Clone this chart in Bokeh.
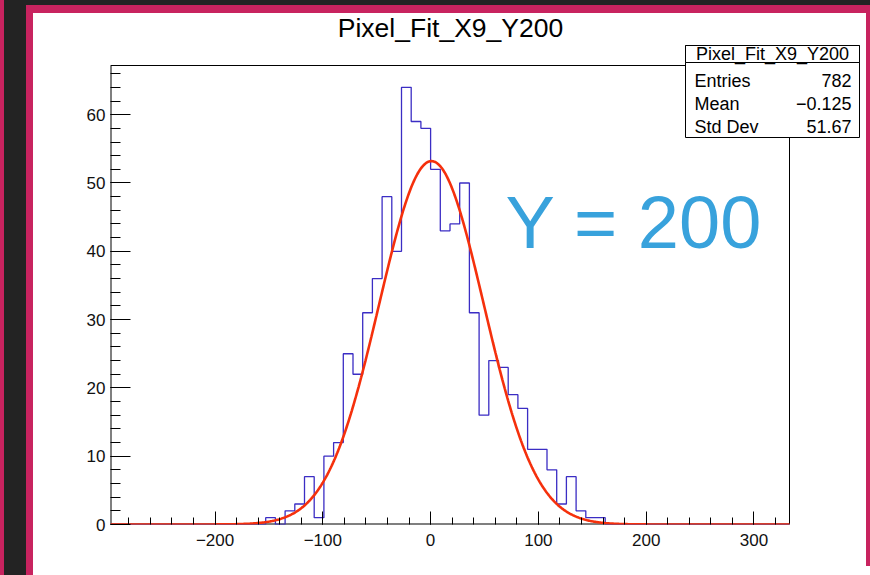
import numpy as np
from bokeh.plotting import figure
from bokeh.models import Range1d, FixedTicker, Label, BoxAnnotation, Div
from bokeh.layouts import row, column
from bokeh.embed import file_html
from bokeh.resources import INLINE

# ---------------- data ----------------
hist_title = "Pixel_Fit_X9_Y200"
x_min, x_max, n_bins = -297.0, 333.0, 70
y_max = 67.2
counts = [0, 0, 0, 0, 0, 0, 0, 0, 0, 0,
          0, 0, 0, 0, 0, 0, 1, 0, 2, 3,
          7, 1, 10, 12, 25, 22, 31, 36, 48, 40,
          64, 59, 58, 52, 43, 44, 50, 31, 16, 24,
          23, 19, 17, 11, 11, 8, 3, 7, 2, 1,
          1, 0, 0, 0, 0, 0, 0, 0, 0, 0,
          0, 0, 0, 0, 0, 0, 0, 0, 0, 0]
fit_constant = 53.2
fit_mean = 0.8
fit_sigma = 48.5
stat_labels = ["Entries", "Mean", "Std Dev"]
stat_values = ["782", "\u22120.125", "51.67"]
x_major = [-200, -100, 0, 100, 200, 300]
x_minor = list(range(-280, 334, 20))
y_major = [0, 10, 20, 30, 40, 50, 60]
y_minor = list(range(0, 68, 2))
annotation_text = "Y = 200"

# ---------------- styles / geometry ----------------
FONT = "Liberation Sans"
MAGENTA = "#c8235f"
DARK = "#232323"
HIST_COLOR = "#3b2dc4"
FIT_COLOR = "#f5300c"

# absolute window pixels
CANVAS_L, CANVAS_T, CANVAS_R = 33, 13, 866
FRAME_L, FRAME_R, FRAME_T, FRAME_B = 110, 789, 65, 524
FIG_W, FIG_H = CANVAS_R - CANVAS_L, 575 - CANVAS_T

sx = (FRAME_R - FRAME_L) / (x_max - x_min)
sy = (FRAME_B - FRAME_T) / y_max
x_end = x_max + (CANVAS_R - FRAME_R) / sx
y_end = y_max + (FRAME_T - CANVAS_T) / sy

p = figure(width=FIG_W, height=FIG_H, output_backend="svg", toolbar_location=None,
           x_range=Range1d(x_min, x_end), y_range=Range1d(0, y_end),
           min_border_left=FRAME_L - CANVAS_L, min_border_right=0,
           min_border_top=0, min_border_bottom=575 - FRAME_B)
p.title.visible = False
p.xgrid.visible = False
p.ygrid.visible = False
p.background_fill_color = "white"
p.border_fill_color = "white"
p.outline_line_color = None

# histogram frame box
p.line([x_min, x_min], [0, y_max], line_color="black", line_width=2)
p.line([x_min, x_max], [0, 0], line_color="black", line_width=2)
p.line([x_min, x_max, x_max], [y_max, y_max, 0], line_color="black", line_width=1)

# histogram outline
edges = np.linspace(x_min, x_max, n_bins + 1)
hx = np.repeat(edges, 2)[1:-1]
hy = np.repeat(np.array(counts, dtype=float), 2)
p.line(hx, hy, line_color=HIST_COLOR, line_width=1.3)

# gaussian fit
fx = np.linspace(x_min, x_max, 800)
fy = fit_constant * np.exp(-0.5 * ((fx - fit_mean) / fit_sigma) ** 2)
p.line(fx, fy, line_color=FIT_COLOR, line_width=2.6)

# axes
xa = p.xaxis[0]
xa.ticker = FixedTicker(ticks=x_major, minor_ticks=x_minor)
xa.major_label_overrides = {t: (("\u2212" + str(-t)) if t < 0 else str(t)) for t in x_major}
xa.major_tick_in = 13
xa.major_tick_out = 0
xa.minor_tick_in = 7
xa.minor_tick_out = 0
xa.major_label_standoff = 9

ya = p.yaxis[0]
ya.ticker = FixedTicker(ticks=y_major, minor_ticks=y_minor)
ya.major_tick_in = 20
ya.major_tick_out = 0
ya.minor_tick_in = 10
ya.minor_tick_out = 0
ya.major_label_standoff = 5

for ax in (xa, ya):
    ax.axis_line_color = None
    ax.major_tick_line_color = "black"
    ax.minor_tick_line_color = "black"
    ax.major_label_text_font = FONT
    ax.major_label_text_font_size = "17px"
    ax.major_label_text_color = "#111111"


def sx_(abs_x):
    return abs_x - FRAME_L


def sy_(abs_y):
    return FRAME_B - abs_y


def sbox(l, r, t, b, fill, line=None):
    box = BoxAnnotation(left=sx_(l), right=sx_(r), top=sy_(t), bottom=sy_(b),
                        left_units="screen", right_units="screen",
                        top_units="screen", bottom_units="screen",
                        fill_color=fill, fill_alpha=1.0,
                        line_color=line, line_alpha=1.0, line_width=1)
    p.add_layout(box)


# stats box
sbox(685, 859, 45, 137, "white", "black")
sbox(685, 859, 45, 62, "white", "black")

p.add_layout(Label(x=sx_(772), y=sy_(53.5), x_units="screen", y_units="screen", text=hist_title,
                   text_font=FONT, text_font_size="18px", text_align="center",
                   text_baseline="middle", text_color="black"))
row_y = [80, 103, 126]
for lab, val, yy in zip(stat_labels, stat_values, row_y):
    p.add_layout(Label(x=sx_(694), y=sy_(yy), x_units="screen", y_units="screen", text=lab,
                       text_font=FONT, text_font_size="18px", text_align="left",
                       text_baseline="middle", text_color="black"))
    p.add_layout(Label(x=sx_(851), y=sy_(yy), x_units="screen", y_units="screen", text=val,
                       text_font=FONT, text_font_size="18px", text_align="right",
                       text_baseline="middle", text_color="black"))

# title
p.add_layout(Label(x=sx_(450), y=sy_(27.5), x_units="screen", y_units="screen", text=hist_title,
                   text_font=FONT, text_font_size="26.5px", text_align="center",
                   text_baseline="middle", text_color="black"))

# big annotation
p.add_layout(Label(x=sx_(505), y=sy_(222), x_units="screen", y_units="screen", text=annotation_text,
                   text_font=FONT, text_font_size="74px", text_align="left",
                   text_baseline="alphabetic", text_color="#38a2dc"))


def block(w, h, color):
    return Div(text="", width=w, height=h, margin=0,
               styles={"background-color": color})


right_strip = column(block(870 - CANVAS_R, FIG_H - 9, MAGENTA), block(870 - CANVAS_R, 9, "white"), spacing=0)
inner = row(block(CANVAS_L - 26, FIG_H, MAGENTA), p, right_strip, spacing=0)
right_col = column(block(870 - 26, 5, DARK), block(870 - 26, CANVAS_T - 5, MAGENTA), inner, spacing=0)
layout = row(block(4, 575, MAGENTA), block(22, 575, DARK), right_col, spacing=0)

open("out.html", "w").write(file_html(layout, INLINE))
